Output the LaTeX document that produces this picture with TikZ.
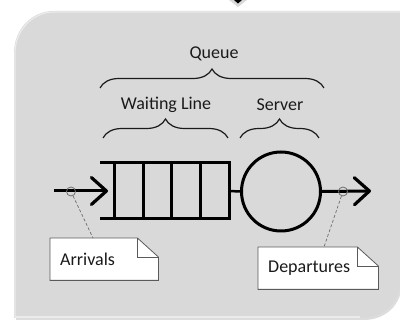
\documentclass[tikz,border=0pt]{standalone}
\usepackage{fontspec}
\setmainfont{Carlito}
\usetikzlibrary{decorations.pathreplacing,arrows.meta,calc}
\definecolor{panelfill}{HTML}{D9D9D9}
\definecolor{panelrim}{HTML}{EBEBEB}
\definecolor{inkgray}{HTML}{6E6E6E}
\definecolor{notegray}{HTML}{5A5A5A}
\definecolor{txt}{HTML}{1A1A1A}
\begin{document}
\begin{tikzpicture}[x=1pt,y=-1pt,
  lbl/.style={font=\fontsize{18}{20}\selectfont, text=txt, inner sep=0pt},
  bracket/.style={decorate, decoration={brace, amplitude=19pt}, line width=1.2pt, draw=txt},
  flow/.style={line width=3pt, -{Straight Barb[length=15pt, width=27pt, line width=3.2pt, round]}},
  tap/.style={circle, draw=inkgray, line width=0.8pt, minimum size=9pt, inner sep=0pt},
  leader/.style={draw=inkgray, dashed, dash pattern=on 3pt off 2pt, line width=0.7pt},
  notebox/.style={rectangle, minimum height=42pt, inner sep=0pt},
  notefold/.style={draw=notegray, line width=0.8pt},
]
\useasboundingbox (0,0) rectangle (400,323);

% outer panel: soft shadow, white rim, grey body
\fill[gray!45, opacity=0.6] (16,320) -- (16,51) .. controls (16,30) and (33,13) .. (56,13)
  -- (402,13) -- (402,283) .. controls (402,305) and (385,320) .. (364,320) -- cycle;
\draw[white, line width=3pt] (14,318) -- (14,53) .. controls (14,30) and (31,11) .. (54,11)
  -- (402,11);
\fill[panelfill] (14,318) -- (14,53) .. controls (14,30) and (31,11) .. (54,11)
  -- (400,11) -- (400,283) .. controls (400,303) and (383,318) .. (362,318) -- cycle;
\draw[panelrim, line width=1.2pt] (15,317) -- (15,53) .. controls (15,31) and (32,12) .. (54,12)
  -- (400,12);
\draw[panelrim, line width=1.2pt] (15,317) -- (360,317);

% partial dark mark cut by the upper edge
\fill[gray!60, opacity=0.5] (229,0) -- (247,0) -- (238,7) -- cycle;
\fill[black] (234,0) -- (242,0) -- (238,3.5) -- cycle;

% labels and braces
\node[lbl] (queue) at (214,54) {Queue};
\node[lbl] (wait) at (166,105) {Waiting Line};
\node[lbl] (server) at (280,105) {Server};
\coordinate (qbL) at (100,88);
\coordinate (qbR) at (324,88);
\draw[bracket] (qbL) -- (qbR);
\coordinate (wbL) at (103,138);
\coordinate (wbR) at (228,138);
\draw[bracket] (wbL) -- (wbR);
\coordinate (sbL) at (240,138);
\coordinate (sbR) at (319,138);
\draw[bracket] (sbL) -- (sbR);

% waiting line buffer
\coordinate (wlTL) at (100,163);
\coordinate (wlBL) at (100,219);
\coordinate (wlTR) at (229,163);
\coordinate (wlBR) at (229,219);
\coordinate (wlE) at (229,191);
\draw[line width=3pt] (wlTL) -- (wlTR) -- (wlBR) -- (wlBL);
\foreach \cx in {114.5,143,171.5,200}
  \draw[line width=3pt] (\cx,163) -- (\cx,219);

% server
\node[circle, draw, line width=3pt, minimum size=79pt, inner sep=0pt] (srv) at (281,191.5) {};
\draw[line width=2.5pt] (wlE) -- (srv.west);

% arrivals and departures flow
\coordinate (inStart) at (54,191);
\coordinate (inEnd) at (108,191);
\draw[flow] (inStart) -- (inEnd);
\coordinate (outEnd) at (371,191);
\draw[flow] (srv.east) -- (outEnd);

% annotation taps
\node[tap] (arrTap) at (71,191.5) {};
\node[tap] (depTap) at (343,191.5) {};

% notes with folded corner
\node[notebox, minimum width=108pt, anchor=north west] (arrNote) at (50,238) {};
\node[notebox, minimum width=120pt, anchor=north west] (depNote) at (258,247) {};
\foreach \n in {arrNote,depNote}{
  \filldraw[notefold, fill=white] (\n.north west) -- ($(\n.north east)+(-21,0)$)
    -- ($(\n.north east)+(0,19)$) -- (\n.south east) -- (\n.south west) -- cycle;
  \draw[notefold] ($(\n.north east)+(-21,0)$) -- ($(\n.north east)+(-21,19)$)
    -- ($(\n.north east)+(0,19)$);
}
\node[lbl, anchor=west] (arrText) at ($(arrNote.west)+(10,0)$) {Arrivals};
\node[lbl, anchor=west] (depText) at ($(depNote.west)+(10,0)$) {Departures};

% leader lines from taps to notes
\draw[leader] (arrTap) -- ($(arrNote.north west)+(43,0)$);
\draw[leader] (depTap) -- ($(depNote.north west)+(66,0)$);
\end{tikzpicture}
\end{document}
